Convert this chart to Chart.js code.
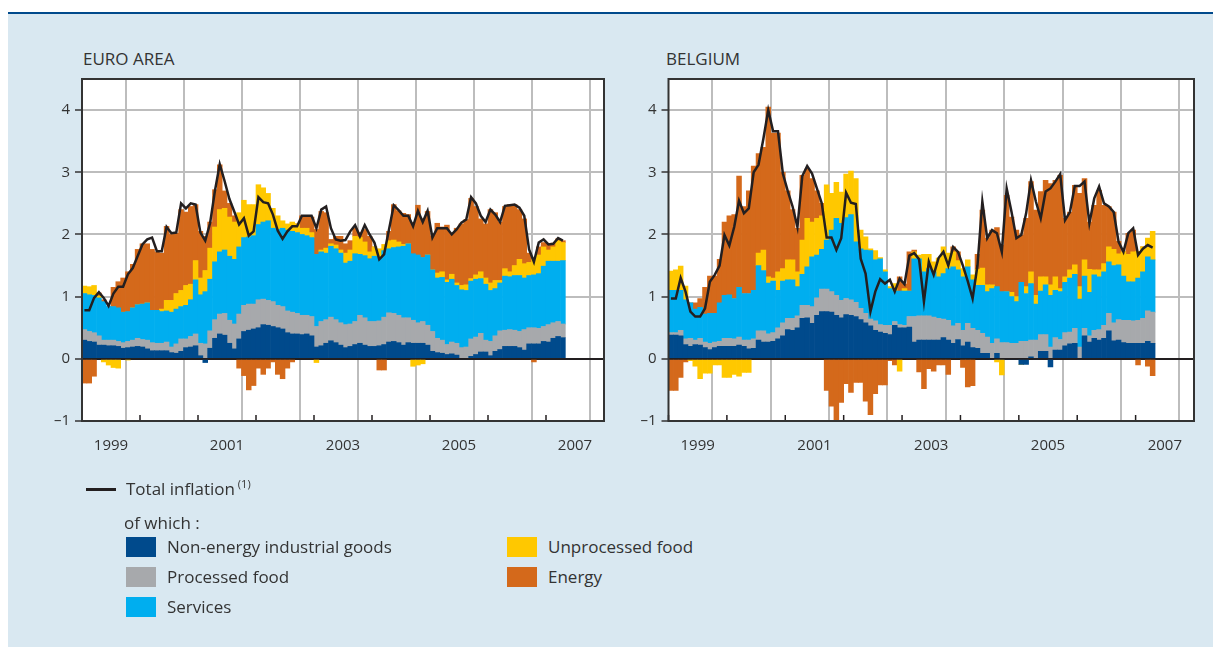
<!DOCTYPE html>
<html lang="en">
<head>
  <title>HICP inflation: euro area and Belgium</title>
  <meta charset="UTF-8">
  <script src="https://cdn.jsdelivr.net/npm/chart.js"></script>
  <style>
    body { margin: 0; width: 1219px; height: 647px; background: #fff; position: relative; overflow: hidden;
           font-family: "Open Sans", "Noto Sans", sans-serif; color: #333; }
    #panel { position: absolute; left: 8px; top: 12px; width: 1205px; height: 635px;
             background: #d9e8f1; border-top: 2px solid #004a8c; box-sizing: border-box; }
    canvas { position: absolute; }
    .txt { position: absolute; font-size: 17px; line-height: 17px; white-space: nowrap; }
    .title { position: absolute; font-size: 17px; line-height: 17px; white-space: nowrap; }
    .box { position: absolute; width: 30px; height: 20px; }
    sup { font-size: 11px; vertical-align: 7px; line-height: 0; }
  </style>
</head>
<body>
  <div id="panel"></div>
  <div class="title" style="left:83px; top:50px;">EURO AREA</div>
  <div class="title" style="left:666px; top:50px;">BELGIUM</div>

  <canvas id="euroChart" width="620" height="420" style="left:0px; top:60px;"></canvas>
  <canvas id="beChart" width="600" height="420" style="left:610px; top:60px;"></canvas>

  <!-- legend -->
  <div style="position:absolute; left:86px; top:488px; width:30px; height:2.5px; background:#231f20;"></div>
  <div class="txt" style="left:126px; top:480px;">Total inflation<sup> (1)</sup></div>
  <div class="txt" style="left:124px; top:514px;">of which :</div>
  <div class="box" style="left:126px; top:537px; background:#004a8c;"></div>
  <div class="txt" style="left:167px; top:538px;">Non-energy industrial goods</div>
  <div class="box" style="left:126px; top:567px; background:#a7a9ac;"></div>
  <div class="txt" style="left:167px; top:568px;">Processed food</div>
  <div class="box" style="left:126px; top:597px; background:#00aeef;"></div>
  <div class="txt" style="left:167px; top:598px;">Services</div>
  <div class="box" style="left:507px; top:537px; background:#ffc800;"></div>
  <div class="txt" style="left:548px; top:538px;">Unprocessed food</div>
  <div class="box" style="left:507px; top:567px; background:#d4691b;"></div>
  <div class="txt" style="left:548px; top:568px;">Energy</div>

  <script>
    // axis labels
    const years = [1999, 2000, 2001, 2002, 2003, 2004, 2005, 2006, 2007];
    const yearLabels = ['1999', '2001', '2003', '2005', '2007'];
    const yTicks = [-1, 0, 1, 2, 3, 4];

    // contributions to HICP inflation, Jan 1999 - Apr 2007, percentage points
    const euroGoods = [
      .30,.28,.27,.22,.22,.21,.21,.20,.17,.18, .19,.20,.19,.16,.13,.13,.13,.13,.10,.09,
      .12,.18,.19,.21,.05,-.06,.17,.33,.40,.38, .25,.16,.32,.44,.46,.48,.50,.55,.54,.52,
      .50,.48,.42,.40,.40,.39,.40,.37,.19,.21, .25,.29,.26,.22,.18,.20,.23,.25,.22,.20,
      .20,.21,.23,.27,.28,.26,.22,.26,.25,.25, .25,.22,.12,.10,.09,.07,.08,.06,0,0,
      .04,.07,.11,.11,.05,.12,.15,.20,.20,.20, .18,.14,.24,.24,.24,.28,.27,.33,.36,.34];
    const euroProcessed = [
      .17,.16,.15,.15,.08,.09,.09,.08,.09,.10, .11,.13,.12,.14,.13,.12,.12,.14,.09,.15,
      .20,.14,.17,.19,.20,.24,.28,.30,.32,.35, .37,.40,.40,.42,.42,.40,.45,.41,.40,.40,
      .36,.36,.35,.35,.33,.31,.30,.31,.33,.39, .38,.38,.37,.36,.37,.36,.37,.45,.44,.40,
      .40,.40,.44,.47,.45,.44,.44,.40,.37,.33, .35,.32,.32,.23,.21,.16,.19,.19,.18,.19,
      .28,.28,.30,.19,.23,.25,.30,.26,.27,.26, .26,.33,.26,.26,.25,.24,.28,.25,.24,.22];
    const euroServices = [
      .58,.59,.60,.61,.62,.54,.54,.54,.49,.48, .52,.54,.57,.60,.52,.53,.51,.50,.56,.56,
      .52,.54,.59,.87,.78,.84,.83,.93,1.00,1.02, 1.03,1.04,1.08,1.09,1.08,1.10,1.21,1.24,1.28,1.18,
      1.22,1.26,1.30,1.30,1.30,1.30,1.28,1.27,1.16,1.12, 1.07,1.14,1.14,1.12,.99,1.01,1.09,.98,1.00,1.01,
      1.05,1.02,1.07,1.03,1.06,1.10,1.15,1.19,1.07,1.09, 1.03,1.13,.99,.97,1.01,1.00,1.01,.93,.93,.91,
      .93,.93,.88,.90,.82,.76,.77,.87,.85,.88, .90,.83,.84,.85,.88,.97,1.02,.99,.97,1.02];
    const euroUnprocessed = [
      .12,.13,.16,.03,-.05,-.10,-.14,-.15,0,-.02, 0,0,0,0,0,0,.04,.17,.19,.25,
      .26,.32,.25,.31,.27,.34,.50,.56,.68,.67, .63,.60,.55,.60,.52,.50,.64,.55,.44,.32,
      .22,.12,.10,.15,.14,.10,.12,.08,-.06,.03, .08,.04,.06,.05,.16,.18,.28,.27,.22,.11,
      .15,.14,.10,.13,.12,.08,.03,0,-.12,-.10, -.08,0,0,.08,.09,.04,.08,.04,.07,.09,
      .04,.07,.11,.10,.12,.13,.04,.12,.08,.16, .26,.23,.21,.25,.30,.31,.18,.23,.33,.29];
    const euroEnergy = [
      -.39,-.39,-.28,.05,.03,0,.31,.42,.55,.64, .70,.89,.97,.95,.98,.94,.90,1.19,1.06,.97,
      1.30,1.18,1.25,.90,.75,.55,.42,.60,.72,.28, .22,.10,-.15,-.27,-.50,-.43,-.15,-.25,-.15,-.05,
      -.25,-.32,-.15,-.05,0,.20,.20,.25,.40,.62, .57,.07,.14,.22,.15,.15,.13,.08,.20,.25,
      0,-.18,-.18,.15,.57,.50,.50,.47,.50,.80, .62,.70,.55,.80,.72,.88,.65,.88,.99,1.05,
      1.29,1.10,.85,.87,1.18,1.09,.94,1.00,1.08,.98, .80,.72,.15,-.05,.13,.07,.10,.06,.03,.03];
    const euroTotal = [
      .78,.78,.98,1.07,.98,.85,1.05,1.16,1.16,1.36, 1.46,1.65,1.84,1.92,1.95,1.73,1.73,2.12,2.02,2.03,
      2.50,2.42,2.50,2.48,2.03,1.90,2.18,2.70,3.13,2.86, 2.57,2.37,2.16,2.26,1.98,2.05,2.60,2.52,2.50,2.32,
      2.06,1.93,2.05,2.13,2.13,2.30,2.30,2.30,2.10,2.40, 2.45,2.10,1.92,1.90,1.91,2.05,2.15,1.97,2.15,2.00,
      1.87,1.60,1.68,2.07,2.47,2.39,2.30,2.30,2.13,2.38, 2.20,2.38,1.95,2.10,2.10,2.10,2.00,2.08,2.19,2.24,
      2.60,2.50,2.30,2.20,2.40,2.32,2.20,2.46,2.47,2.48, 2.43,2.30,1.76,1.56,1.87,1.92,1.84,1.85,1.94,1.90];

    const beGoods = [
      .38,.38,.37,.23,.20,.23,.22,.18,.15,.18, .20,.20,.20,.20,.22,.20,.16,.17,.30,.27,
      .27,.28,.32,.37,.47,.46,.50,.65,.66,.57, .70,.76,.76,.75,.70,.66,.71,.70,.68,.63,
      .58,.53,.46,.43,.41,.39,.54,.50,.50,.51, .27,.30,.30,.30,.30,.30,.34,.30,.25,.31,
      .21,.27,.18,.17,.09,.09,0,.09,0,0, 0,0,-.09,-.09,.03,0,.12,.12,-.13,.14,
      .14,.21,.24,.25,0,.37,.27,.33,.30,.33, .45,.29,.30,.26,.25,.25,.25,.25,.28,.25];
    const beProcessed = [
      .04,.04,.09,.09,.13,.07,.11,.09,.10,.09, .08,.13,.13,.12,.13,.10,.14,.15,.15,.18,
      .13,.14,.18,.21,.18,.19,.19,.21,.20,.27, .28,.36,.36,.33,.32,.28,.26,.25,.23,.18,
      .15,.11,.15,.12,.13,.15,.06,.05,.04,.17, .41,.39,.39,.39,.37,.35,.30,.32,.28,.26,
      .25,.30,.31,.29,.32,.26,.25,.23,.26,.26, .25,.25,.28,.28,.27,.30,.27,.27,.19,.20,
      .17,.21,.19,.24,.19,.12,.10,.13,.17,.21, .28,.29,.33,.36,.37,.36,.37,.40,.49,.50];
    const beServices = [
      .68,.68,.64,.63,.57,.50,.50,.45,.48,.46, .62,.69,.70,.65,.80,.75,.75,.78,1.05,.97,
      .82,.83,.60,.67,.62,.62,.47,.50,.62,.80, .69,.64,.79,.99,1.24,1.24,1.30,1.37,.97,.96,
      1.02,1.10,.98,1.06,.86,.59,.49,.54,.55,.41, .93,.92,.71,.76,.73,.67,.73,.83,.95,.86,
      .86,.91,.78,.72,.77,.73,.88,.84,.82,.82, .75,.67,.95,.77,.91,.58,.70,.80,.83,.76,
      .77,.81,.87,.87,.77,.84,.70,.89,.85,.86, .83,.92,.88,.71,.62,.63,.68,.75,.87,.84];
    const beUnprocessed = [
      .31,.33,.39,.22,-.03,-.12,-.32,-.23,-.23,-.10, -.10,-.30,-.30,-.25,-.28,-.22,-.22,0,.20,.33,
      .10,.05,.30,.20,.32,.32,.24,.55,.78,.56, .59,.54,.89,.59,.58,.50,.70,.70,1.02,.30,
      .21,.03,.15,.02,.03,.03,.12,-.20,.04,0, .11,.06,.28,.23,.16,.30,.43,.25,.24,.15,
      .13,.11,.08,.26,.28,.11,.06,-.05,-.26,0, .07,.08,0,.11,.19,.14,.23,.13,.17,.22,
      .05,.09,.13,.15,.20,.26,.37,.08,.11,.13, .24,.26,.18,.39,.44,.48,.43,.40,.30,.46];
    const beEnergy = [
      -.51,-.51,-.30,-.05,0,.10,.14,.43,.60,.60, .70,1.18,1.27,1.35,1.79,1.40,1.65,2.00,1.60,1.65,
      2.73,2.33,2.23,1.55,1.11,.81,.70,1.04,.79,.70, .44,.20,-.51,-.76,-.99,-.70,-.40,-.54,-.38,-.38,
      -.68,-.90,-.56,-.42,-.42,-.03,-.10,.23,.07,.63, .03,-.21,-.48,-.16,-.20,-.10,-.10,-.25,.08,.14,
      -.14,-.45,-.43,.24,.93,.75,.88,.95,.75,1.55, 1.21,1.07,.76,1.10,1.45,1.37,1.37,1.55,1.63,1.55,
      1.82,.94,.93,1.28,1.50,1.31,.76,1.04,1.28,.94, .65,.60,.20,0,.34,.35,-.10,0,-.12,-.27];
    const beTotal = [
      .97,.97,1.30,1.08,.76,.68,.68,.81,1.24,1.35, 1.50,1.99,1.82,2.12,2.54,2.34,2.42,3.00,3.12,3.54,
      4.00,3.66,3.66,2.98,2.70,2.45,2.12,2.94,3.10,2.98, 2.74,2.50,1.95,1.95,1.75,1.94,2.67,2.51,2.49,1.61,
      1.37,.76,1.08,1.28,1.21,1.27,1.08,1.29,1.20,1.66, 1.70,1.60,.92,1.56,1.35,1.62,1.72,1.50,1.80,1.72,
      1.50,1.25,.97,1.50,2.53,1.94,2.07,2.02,1.72,2.74, 2.36,1.94,1.99,2.34,2.87,2.53,2.26,2.69,2.74,2.85,
      2.97,2.23,2.36,2.78,2.78,2.85,2.18,2.58,2.77,2.50, 2.45,2.36,1.88,1.72,2.02,2.10,1.67,1.77,1.83,1.79];

    // one category per month, 1999-2007
    const months = [];
    years.forEach(y => { for (let m = 1; m <= 12; m++) months.push(y + '-' + m); });

    const colors = ['#004a8c', '#a7a9ac', '#00aeef', '#ffc800', '#d4691b'];
    const names = ['Non-energy industrial goods', 'Processed food', 'Services', 'Unprocessed food', 'Energy'];
    const tickFont = { family: '"Open Sans", "Noto Sans", sans-serif', size: 15 };

    // white plot area, dark frame, zero line and small year marks
    const framePlugin = {
      id: 'frame',
      beforeDraw(chart) {
        const a = chart.chartArea, ctx = chart.ctx;
        ctx.save();
        ctx.fillStyle = '#fff';
        ctx.fillRect(a.left, a.top, a.right - a.left, a.bottom - a.top);
        ctx.restore();
      },
      afterDatasetsDraw(chart) {
        const a = chart.chartArea, ctx = chart.ctx;
        const y0 = chart.scales.y.getPixelForValue(0);
        ctx.save();
        ctx.strokeStyle = '#231f20';
        ctx.lineWidth = 1.5;
        ctx.beginPath();
        ctx.moveTo(a.left, y0);
        ctx.lineTo(a.right, y0);
        ctx.stroke();
        chart.scales.x2.ticks.forEach(t => {
          if (t.value % 12 === 0) {
            const px = chart.scales.x2.getPixelForValue(t.value);
            ctx.beginPath();
            ctx.moveTo(px, a.bottom);
            ctx.lineTo(px, a.bottom - 6);
            ctx.stroke();
          }
        });
        ctx.lineWidth = 2;
        ctx.strokeStyle = '#333';
        ctx.strokeRect(a.left, a.top, a.right - a.left, a.bottom - a.top);
        ctx.restore();
      }
    };

    function makeChart(id, parts, total, yWidth, padRight) {
      const datasets = parts.map((vals, i) => ({
        type: 'bar',
        label: names[i],
        data: vals,
        backgroundColor: colors[i],
        borderWidth: 0,
        barPercentage: 1,
        categoryPercentage: 1,
        yAxisID: 'y',
        order: 1
      }));
      datasets.push({
        type: 'line',
        label: 'Total inflation',
        data: total,
        borderColor: '#231f20',
        borderWidth: 2.5,
        pointRadius: 0,
        tension: 0,
        yAxisID: 'yl',
        order: 0
      });

      new Chart(document.getElementById(id), {
        type: 'bar',
        data: { labels: months, datasets: datasets },
        plugins: [framePlugin],
        options: {
          responsive: false,
          animation: false,
          layout: { padding: { top: 19, right: padRight, left: 0, bottom: 0 } },
          plugins: { legend: { display: false }, tooltip: { enabled: false } },
          scales: {
            x: { type: 'category', stacked: true, display: false, offset: true },
            x2: {
              type: 'linear', position: 'bottom', min: 0, max: 108, offset: false,
              afterBuildTicks: s => {
                const t = [];
                for (let v = 0; v <= 108; v += 6) t.push({ value: v });
                s.ticks = t;
              },
              afterFit: s => { s.height = 59; },
              border: { display: false },
              grid: {
                color: c => (c.tick && c.tick.value % 12 === 0) ? '#bdbdbd' : 'rgba(0,0,0,0)',
                lineWidth: 2,
                drawTicks: false
              },
              ticks: {
                autoSkip: false, maxRotation: 0, padding: 16, color: '#333', font: tickFont,
                callback: v => (v % 24 === 6) ? yearLabels[(v - 6) / 24] : ''
              }
            },
            y: {
              stacked: true, min: -1, max: 4.5,
              afterBuildTicks: s => { s.ticks = yTicks.map(v => ({ value: v })); },
              afterFit: s => { s.width = yWidth; },
              border: { display: false },
              grid: {
                color: c => (c.tick && c.tick.value === 0) ? '#231f20' : '#bdbdbd',
                lineWidth: 2,
                tickColor: '#333',
                tickLength: 7,
                tickWidth: 1.5
              },
              ticks: {
                padding: 5, color: '#333', font: tickFont,
                callback: v => v < 0 ? '\u2013' + Math.abs(v) : String(v)
              }
            },
            yl: { min: -1, max: 4.5, display: false }
          }
        }
      });
    }

    makeChart('euroChart', [euroGoods, euroProcessed, euroServices, euroUnprocessed, euroEnergy], euroTotal, 82, 13);
    makeChart('beChart', [beGoods, beProcessed, beServices, beUnprocessed, beEnergy], beTotal, 58.5, 16);
  </script>
</body>
</html>
